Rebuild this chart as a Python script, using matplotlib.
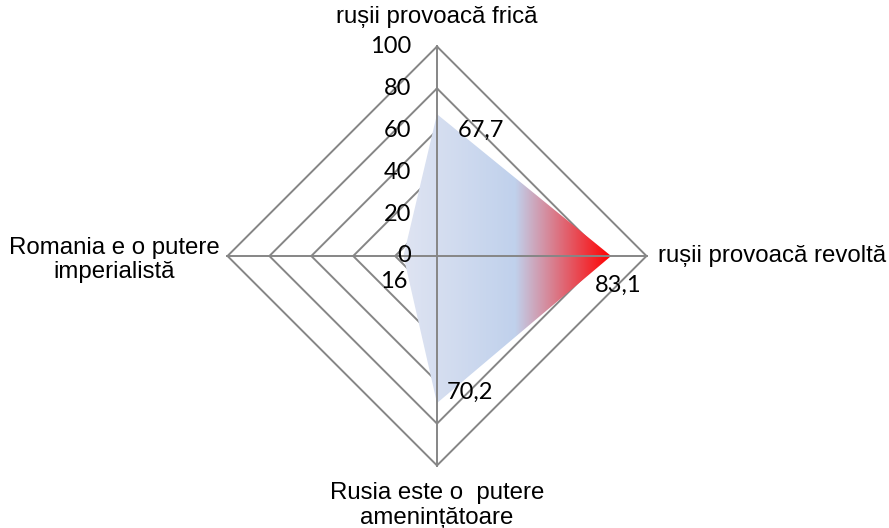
import numpy as np
import matplotlib
matplotlib.use("Agg")
import matplotlib.pyplot as plt
from matplotlib.colors import LinearSegmentedColormap
from matplotlib.patches import Polygon

# data (clockwise from top)
categories = ["rușii provoacă frică", "rușii provoacă revoltă",
              "Rusia este o  putere\namenințătoare", "Romania e o putere\nimperialistă"]
values = [67.7, 83.1, 70.2, 16]
value_labels = ["67,7", "83,1", "70,2", "16"]
ticks = [0, 20, 40, 60, 80, 100]

# pixel offsets for the value labels and category labels
label_offsets = [(21, -16, "left"), (7, -29, "center"), (33, 11, "center"), (-10, -26, "center")]
cat_offsets = [(0, 29, "center"), (12, 0, "left"), (0, -40, "center"), (-8, -4, "right")]

W, H = 889, 528
cx, cy = 437, 256   # centre in pixels
s = 2.095           # pixels per unit
grid_col = "#868686"

fig = plt.figure(figsize=(W / 100, H / 100), dpi=100)
ax = fig.add_axes([0, 0, 1, 1])
ax.axis("off")

ang = np.deg2rad(90 - 90 * np.arange(len(values)))
dx = np.round(np.cos(ang), 6)
dy = np.round(np.sin(ang), 6)

# diamond rings
for r in ticks[1:]:
    ax.plot(np.append(dx * r, dx[0] * r), np.append(dy * r, dy[0] * r),
            color=grid_col, lw=1.4, zorder=1)

# gradient filled area
vx = dx * np.array(values)
vy = dy * np.array(values)
poly = Polygon(np.column_stack([vx, vy]), closed=True, facecolor="none",
               edgecolor="none", transform=ax.transData)
ax.add_patch(poly)
cmap = LinearSegmentedColormap.from_list(
    "fill", [(0, "#dfe4f2"), (0.54, "#c0d1ec"), (1.0, "#ff0000")])
grad = np.linspace(0, 1, 256).reshape(1, -1)
im = ax.imshow(grad, cmap=cmap, aspect="auto", interpolation="bilinear",
               extent=[vx.min(), vx.max(), vy.min(), vy.max()], zorder=2)
im.set_clip_path(poly)
ax.set_xlim(-cx / s, (W - cx) / s)
ax.set_ylim(-(H - cy) / s, cy / s)

# spokes
for i in range(len(values)):
    ax.plot([0, dx[i] * 100], [0, dy[i] * 100], color=grid_col, lw=1.4, zorder=3)

# tick labels
for t in ticks:
    ax.annotate(str(t), xy=(0, t), xytext=(-26 * 0.72, 0), textcoords="offset points",
                ha="right", va="center", fontsize=17, family="Lato", zorder=4)

# value labels
for i, lab in enumerate(value_labels):
    ox, oy, ha = label_offsets[i]
    ax.annotate(lab, xy=(vx[i], vy[i]), xytext=(ox * 0.72, oy * 0.72),
                textcoords="offset points", ha=ha, va="center",
                fontsize=17, family="Lato", zorder=4)

# category labels
for i, cat in enumerate(categories):
    ox, oy, ha = cat_offsets[i]
    ax.annotate(cat, xy=(dx[i] * 100, dy[i] * 100), xytext=(ox * 0.72, oy * 0.72),
                textcoords="offset points", ha=ha, va="center", multialignment="center",
                linespacing=1.17, fontsize=17.3, family="Liberation Sans", zorder=4)

fig.savefig("out.png", dpi=100)
